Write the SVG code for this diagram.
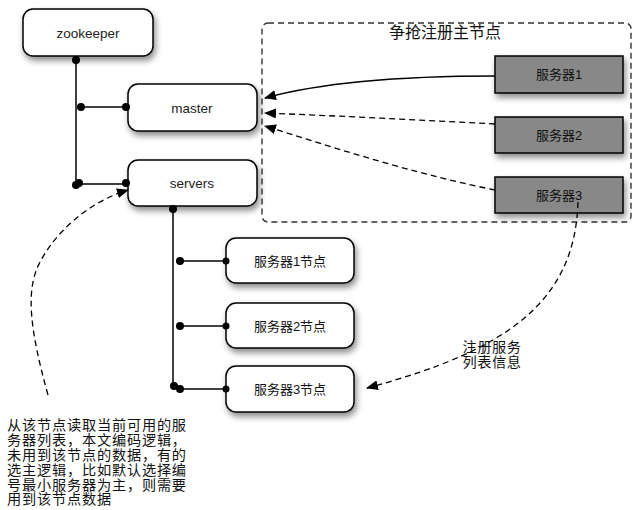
<svg xmlns="http://www.w3.org/2000/svg" width="639" height="510" viewBox="0 0 639 510">
<style>
.node{fill:#fff;stroke:#000;stroke-width:1.5}
.gray{fill:#888;stroke:#000;stroke-width:1.5}
.en{font-family:"Liberation Sans",Arial,sans-serif;font-size:13.5px;fill:#222;text-anchor:middle}
.cn{font-family:"Liberation Sans","Noto Sans CJK SC",sans-serif;font-size:13px;fill:#111;text-anchor:middle}
.ln{fill:none;stroke:#000;stroke-width:1.5}
.dash{fill:none;stroke:#000;stroke-width:1.3;stroke-dasharray:6,4}
.dot{fill:#000}
.note{font-size:14.2px;letter-spacing:0.8px}
.lab{font-size:14.2px;letter-spacing:0.6px;text-anchor:middle}
</style>
<defs>
<filter id="sh" x="-20%" y="-20%" width="150%" height="170%">
<feDropShadow dx="2" dy="4" stdDeviation="3" flood-color="#000" flood-opacity="0.45"/>
</filter>
<marker id="arr" markerWidth="12" markerHeight="10" refX="11" refY="5" orient="auto" markerUnits="userSpaceOnUse">
<path d="M0,0 L12,5 L0,10 Z" fill="#000"/>
</marker>
</defs>

<g id="region">
<rect x="262" y="23" width="369" height="199" rx="6" fill="none" stroke="#333" stroke-width="1.4" stroke-dasharray="6,4"/>
<text x="445" y="38" font-family="'Liberation Sans','Noto Sans CJK SC',sans-serif" font-size="16" text-anchor="middle" fill="#111">争抢注册主节点</text>
</g>

<g id="zookeeper">
<rect class="node" x="23" y="9" width="130" height="47" rx="10" filter="url(#sh)"/>
<text class="en" x="88" y="38">zookeeper</text>
</g>
<g id="master">
<rect class="node" x="128" y="84" width="129" height="47" rx="10" filter="url(#sh)"/>
<text class="en" x="192" y="113">master</text>
</g>
<g id="servers">
<rect class="node" x="128" y="160" width="129" height="46" rx="10" filter="url(#sh)"/>
<text class="en" x="192" y="188">servers</text>
</g>
<g id="node1">
<rect class="node" x="226" y="238" width="128" height="45" rx="10" filter="url(#sh)"/>
<text class="cn" x="290" y="266">服务器1节点</text>
</g>
<g id="node2">
<rect class="node" x="226" y="303" width="128" height="45" rx="10" filter="url(#sh)"/>
<text class="cn" x="290" y="331">服务器2节点</text>
</g>
<g id="node3">
<rect class="node" x="226" y="366" width="128" height="46" rx="10" filter="url(#sh)"/>
<text class="cn" x="290" y="394">服务器3节点</text>
</g>
<g id="server1">
<rect class="gray" x="495" y="56" width="128" height="37" filter="url(#sh)"/>
<text class="cn" x="559" y="79">服务器1</text>
</g>
<g id="server2">
<rect class="gray" x="495" y="117" width="128" height="36" filter="url(#sh)"/>
<text class="cn" x="559" y="140">服务器2</text>
</g>
<g id="server3">
<rect class="gray" x="495" y="177" width="128" height="36" filter="url(#sh)"/>
<text class="cn" x="559" y="200">服务器3</text>
</g>

<g id="connectors">
<path class="ln" d="M76,60 L76,185"/>
<path class="ln" d="M81,107 L128,107"/>
<path class="ln" d="M78,184 L128,184"/>
<circle class="dot" cx="76" cy="60" r="4"/>
<circle class="dot" cx="81" cy="107" r="4"/>
<circle class="dot" cx="126" cy="107" r="4"/>
<circle class="dot" cx="76" cy="185" r="4"/>
<circle class="dot" cx="79" cy="183" r="4"/>
<circle class="dot" cx="126" cy="183" r="4"/>

<path class="ln" d="M173,210 L173,386"/>
<path class="ln" d="M180,261 L226,261"/>
<path class="ln" d="M180,326 L226,326"/>
<path class="ln" d="M176,389 L226,389"/>
<circle class="dot" cx="173" cy="209" r="4"/>
<circle class="dot" cx="180" cy="261" r="4"/>
<circle class="dot" cx="226" cy="261" r="3.5"/>
<circle class="dot" cx="180" cy="326" r="4"/>
<circle class="dot" cx="226" cy="326" r="3.5"/>
<circle class="dot" cx="174" cy="386" r="4"/>
<circle class="dot" cx="180" cy="389" r="4"/>
<circle class="dot" cx="226" cy="389" r="3.5"/>

<path class="ln" d="M495,76 C420,76 330,80 265,98" marker-end="url(#arr)"/>
<path class="dash" d="M495,124 C420,120 340,116 265,113" marker-end="url(#arr)"/>
<path class="dash" d="M495,190 C420,175 340,150 265,126" marker-end="url(#arr)"/>
<path class="dash" d="M578,202 C575,300 510,350 367,388" marker-end="url(#arr)"/>
<path class="dash" d="M48,395 C30,330 25,290 40,262 C60,225 95,200 128,190" marker-end="url(#arr)"/>
</g>

<g id="labels" font-family="'Liberation Sans','Noto Sans CJK SC',sans-serif" fill="#111">
<text class="lab" x="492" y="351.5">注册服务</text>
<text class="lab" x="492" y="366.5">列表信息</text>
<text class="note" x="7" y="430">从该节点读取当前可用的服</text>
<text class="note" x="7" y="445">务器列表，本文编码逻辑，</text>
<text class="note" x="7" y="460">未用到该节点的数据，有的</text>
<text class="note" x="7" y="474.5">选主逻辑，比如默认选择编</text>
<text class="note" x="7" y="489.5">号最小服务器为主，则需要</text>
<text class="note" x="7" y="504">用到该节点数据</text>
</g>
</svg>
